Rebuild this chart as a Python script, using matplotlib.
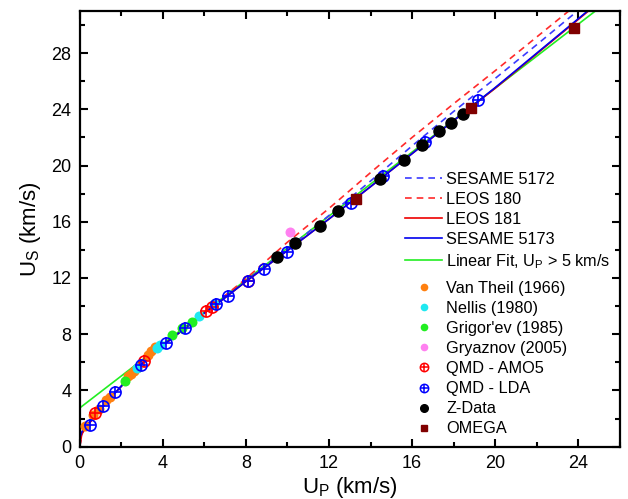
import numpy as np
import matplotlib
matplotlib.use("Agg")
import matplotlib.pyplot as plt
from matplotlib.lines import Line2D
from matplotlib.ticker import MultipleLocator

plt.rcParams['font.family'] = ['Liberation Sans', 'DejaVu Sans']
plt.rcParams['mathtext.fontset'] = 'custom'
plt.rcParams['mathtext.rm'] = 'Liberation Sans'
plt.rcParams['mathtext.it'] = 'Liberation Sans'

# ================= DATA =================
# model curves, Up grid
curve_up = [0, 0.1, 0.25, 0.5, 1.0, 1.5, 2.0, 3.0, 4.0, 5.0, 6.0, 7.0, 8.0,
            10.0, 12.0, 14.0, 16.0, 18.0, 20.0, 22.0, 24.0, 26.0]
leos181_us = [0, 0.9, 1.3, 1.75, 2.65, 3.5, 4.3, 5.9, 7.2, 8.35, 9.5, 10.6, 11.75,
              13.95, 16.2, 18.5, 20.85, 23.2, 25.5, 27.95, 30.4, 32.85]
sesame5173_us = [0.6, 1.05, 1.4, 1.8, 2.7, 3.5, 4.3, 5.9, 7.2, 8.35, 9.5, 10.6, 11.75,
                 13.95, 16.2, 18.5, 20.85, 23.2, 25.55, 28.0, 30.45, 32.9]
sesame5172_us = [0, 0.9, 1.3, 1.75, 2.65, 3.5, 4.3, 5.9, 7.2, 8.35, 9.5, 10.65, 11.8,
                 14.05, 16.45, 18.9, 21.4, 23.85, 26.2, 28.6, 31.05, 33.5]
leos180_us = [0, 0.9, 1.3, 1.75, 2.65, 3.5, 4.3, 5.9, 7.2, 8.35, 9.55, 10.75, 11.95,
              14.55, 16.95, 19.5, 22.0, 24.4, 26.75, 29.15, 31.55, 34.0]
# linear fit Us = c0 + s*Up
fit_c0 = 2.75
fit_s = 1.138

vantheil_up = [0.25, 0.65, 0.95, 1.25, 1.45, 2.3, 2.45, 2.6, 2.75, 3.3, 3.45, 3.6]
vantheil_us = [1.5, 2.25, 2.7, 3.35, 3.55, 5.0, 5.2, 5.4, 5.6, 6.5, 6.8, 7.1]
nellis_up = [2.75, 3.7, 3.85, 5.75, 6.45]
nellis_us = [5.6, 7.0, 7.2, 9.3, 10.15]
grigorev_up = [2.2, 4.42, 4.9, 5.42]
grigorev_us = [4.65, 7.95, 8.45, 8.87]
gryaznov_up = [10.12]
gryaznov_us = [15.27]
amo5_up = [0.71, 3.07, 6.07, 6.35, 8.11]
amo5_us = [2.39, 6.07, 9.66, 9.95, 11.8]
lda_up = [0.47, 1.11, 1.72, 2.94, 4.14, 5.06, 6.55, 7.16, 8.12, 8.89, 9.99,
          13.08, 14.6, 16.63, 19.17]
lda_us = [1.55, 2.9, 3.89, 5.8, 7.37, 8.43, 10.14, 10.7, 11.78, 12.65, 13.82,
          17.37, 19.25, 21.7, 24.7]
zdata_up = [9.48, 10.34, 11.58, 12.42, 14.46, 15.61, 16.47, 17.29, 17.87, 18.47]
zdata_us = [13.5, 14.48, 15.72, 16.78, 19.07, 20.42, 21.43, 22.49, 23.0, 23.69]
omega_up = [13.3, 18.84, 23.77]
omega_us = [17.64, 24.1, 29.76]

# ========================== PLOT =================================
fig = plt.figure(figsize=(6.28, 4.99), dpi=100)
ax = fig.add_axes([0.127, 0.105, 0.86, 0.873])

fit_x = np.array([0, 26.0])
l_fit, = ax.plot(fit_x, fit_c0 + fit_s * fit_x, color='#22ee22', lw=1.2, zorder=2)
l_5172, = ax.plot(curve_up, sesame5172_us, color='#3a3aff', lw=1.2, ls=(0, (4, 3)), zorder=2)
l_180, = ax.plot(curve_up, leos180_us, color='#ff2a2a', lw=1.2, ls=(0, (4, 3)), zorder=2)
l_181, = ax.plot(curve_up, leos181_us, color='#ee0000', lw=1.2, zorder=2)
l_5173, = ax.plot(curve_up, sesame5173_us, color='#0000ee', lw=1.2, zorder=2)

ms = 7.2
m_vt, = ax.plot(vantheil_up, vantheil_us, 'o', color='#ff8010', ms=ms, mec='none', zorder=3)
m_ne, = ax.plot(nellis_up, nellis_us, 'o', color='#20e8f0', ms=ms, mec='none', zorder=3)
m_gr, = ax.plot(grigorev_up, grigorev_us, 'o', color='#22ee22', ms=ms, mec='none', zorder=3)
m_gz, = ax.plot(gryaznov_up, gryaznov_us, 'o', color='#ff80f0', ms=ms, mec='none', zorder=3)

# QMD points: open circle with a plus inside
a1, = ax.plot(amo5_up, amo5_us, 'o', mfc='none', mec='#ff0000', ms=8, mew=1.2, zorder=4)
a2, = ax.plot(amo5_up, amo5_us, '+', color='#ff0000', ms=8, mew=1.2, zorder=4)
b1, = ax.plot(lda_up, lda_us, 'o', mfc='none', mec='#0000ff', ms=8, mew=1.2, zorder=4)
b2, = ax.plot(lda_up, lda_us, '+', color='#0000ff', ms=8, mew=1.2, zorder=4)

m_z, = ax.plot(zdata_up, zdata_us, 'o', color='black', ms=8, zorder=5)
m_om, = ax.plot(omega_up, omega_us, 's', color='#800000', ms=6.5, zorder=5)

ax.set_xlim(0, 26)
ax.set_ylim(0, 31)
ax.xaxis.set_major_locator(MultipleLocator(4))
ax.xaxis.set_minor_locator(MultipleLocator(2))
ax.yaxis.set_major_locator(MultipleLocator(4))
ax.yaxis.set_minor_locator(MultipleLocator(2))
ax.tick_params(which='both', direction='in', top=True, right=True, width=1.5)
ax.tick_params(which='major', length=6, labelsize=13, pad=6)
ax.tick_params(which='minor', length=3.5)
for s in ax.spines.values():
    s.set_linewidth(1.6)

ax.set_xlabel('U$_\\mathregular{P}$ (km/s)', fontsize=16, labelpad=2)
ax.set_ylabel('U$_\\mathregular{S}$ (km/s)', fontsize=16, labelpad=6)

# --- legends ---
lfs = 11.7
leg1 = ax.legend([l_5172, l_180, l_181, l_5173, l_fit],
                 ['SESAME 5172', 'LEOS 180', 'LEOS 181', 'SESAME 5173',
                  'Linear Fit, U$_\\mathregular{P}$ > 5 km/s'],
                 loc='upper left', bbox_to_anchor=(405 / 628, 1 - 172 / 499),
                 bbox_transform=fig.transFigure, frameon=False, fontsize=lfs,
                 handlelength=2.28, handletextpad=0.25, labelspacing=0.31,
                 borderpad=0, borderaxespad=0)
ax.add_artist(leg1)

sm = 5.5
h_vt = Line2D([], [], ls='none', marker='o', color='#ff8010', ms=sm, mec='none')
h_ne = Line2D([], [], ls='none', marker='o', color='#20e8f0', ms=sm, mec='none')
h_gr = Line2D([], [], ls='none', marker='o', color='#22ee22', ms=sm, mec='none')
h_gz = Line2D([], [], ls='none', marker='o', color='#ff80f0', ms=sm, mec='none')
h_a1 = Line2D([], [], ls='none', marker='o', mfc='none', mec='#ff0000', ms=6, mew=1.1)
h_a2 = Line2D([], [], ls='none', marker='+', color='#ff0000', ms=6, mew=1.1)
h_b1 = Line2D([], [], ls='none', marker='o', mfc='none', mec='#0000ff', ms=6, mew=1.1)
h_b2 = Line2D([], [], ls='none', marker='+', color='#0000ff', ms=6, mew=1.1)
h_z = Line2D([], [], ls='none', marker='o', color='black', ms=sm)
h_om = Line2D([], [], ls='none', marker='s', color='#800000', ms=5)

ax.legend([h_vt, h_ne, h_gr, h_gz, (h_a1, h_a2), (h_b1, h_b2), h_z, h_om],
          ['Van Theil (1966)', 'Nellis (1980)', "Grigor'ev (1985)", 'Gryaznov (2005)',
           'QMD - AMO5', 'QMD - LDA', 'Z-Data', 'OMEGA'],
          loc='upper left', bbox_to_anchor=(405 / 628, 1 - 281 / 499),
          bbox_transform=fig.transFigure, frameon=False, fontsize=lfs,
          handlelength=2.28, handletextpad=0.25, labelspacing=0.31,
          borderpad=0, borderaxespad=0)

fig.savefig('out.png', dpi=100)
